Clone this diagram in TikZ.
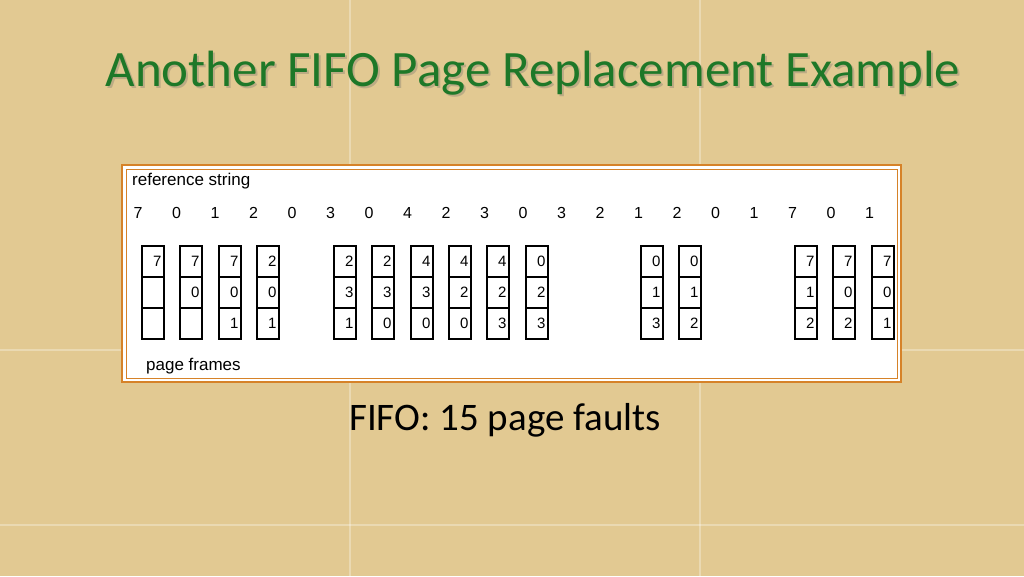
\documentclass[tikz,border=0pt]{standalone}
\usepackage{fontspec}
\setmainfont{Carlito}
\newfontfamily\arialf{Liberation Sans}
\definecolor{bg}{RGB}{226,201,146}
\definecolor{ttl}{RGB}{30,120,40}
\definecolor{brd}{RGB}{214,130,40}
\tikzset{cellbox/.style={draw=black,line width=1.1pt,minimum width=22pt,minimum height=31pt,inner sep=0pt,font=\arialf\fontsize{15}{15}\selectfont,text width=17pt,align=right},
 refnum/.style={font=\arialf\fontsize{16}{16}\selectfont,inner sep=0pt},
 lbl/.style={font=\arialf\fontsize{17}{17}\selectfont,inner sep=0pt,anchor=west}}
\begin{document}
\begin{tikzpicture}[x=1pt,y=-1pt]
\fill[bg] (0,0) rectangle (1024,576);
\useasboundingbox (0,0) rectangle (1024,576);
\foreach \x in {350,700} \draw[white,opacity=0.3,line width=1.2pt] (\x,0) -- (\x,576);
\foreach \y in {350,525} \draw[white,opacity=0.3,line width=1.2pt] (0,\y) -- (1024,\y);
\node[text=black!60,opacity=0.3,font=\fontsize{51}{51}\selectfont,inner sep=0pt] at (535,75) {Another FIFO Page Replacement Example};
\node[text=ttl,font=\fontsize{51}{51}\selectfont,inner sep=0pt] (title) at (533,73) {Another FIFO Page Replacement Example};
\draw[brd,line width=1.5pt,fill=white] (122,165) rectangle (901,382);
\draw[brd,line width=0.8pt] (126,169) rectangle (897,378);
\node[lbl] (rs) at (132,181) {reference string};
\node[lbl] (pf) at (146,366) {page frames};
\foreach \v [count=\i] in {7,0,1,2,0,3,0,4,2,3,0,3,2,1,2,0,1,7,0,1}
  \node[refnum] (r\i) at ({138+38.5*(\i-1)},213) {\v};
\foreach \x/\a/\b/\c [count=\k] in {153/7//,191/7/0/,230/7/0/1,268/2/0/1,345/2/3/1,383/2/3/0,422/4/3/0,460/4/2/0,498/4/2/3,537/0/2/3,652/0/1/3,690/0/1/2,806/7/1/2,844/7/0/2,883/7/0/1}{
  \node[cellbox] (f\k a) at (\x,261.5) {\a};
  \node[cellbox] (f\k b) at (\x,292.5) {\b};
  \node[cellbox] (f\k c) at (\x,323.5) {\c};
}
\node[font=\fontsize{39}{39}\selectfont,inner sep=0pt] (fifo) at (505,420) {FIFO: 15 page faults};
\end{tikzpicture}
\end{document}
